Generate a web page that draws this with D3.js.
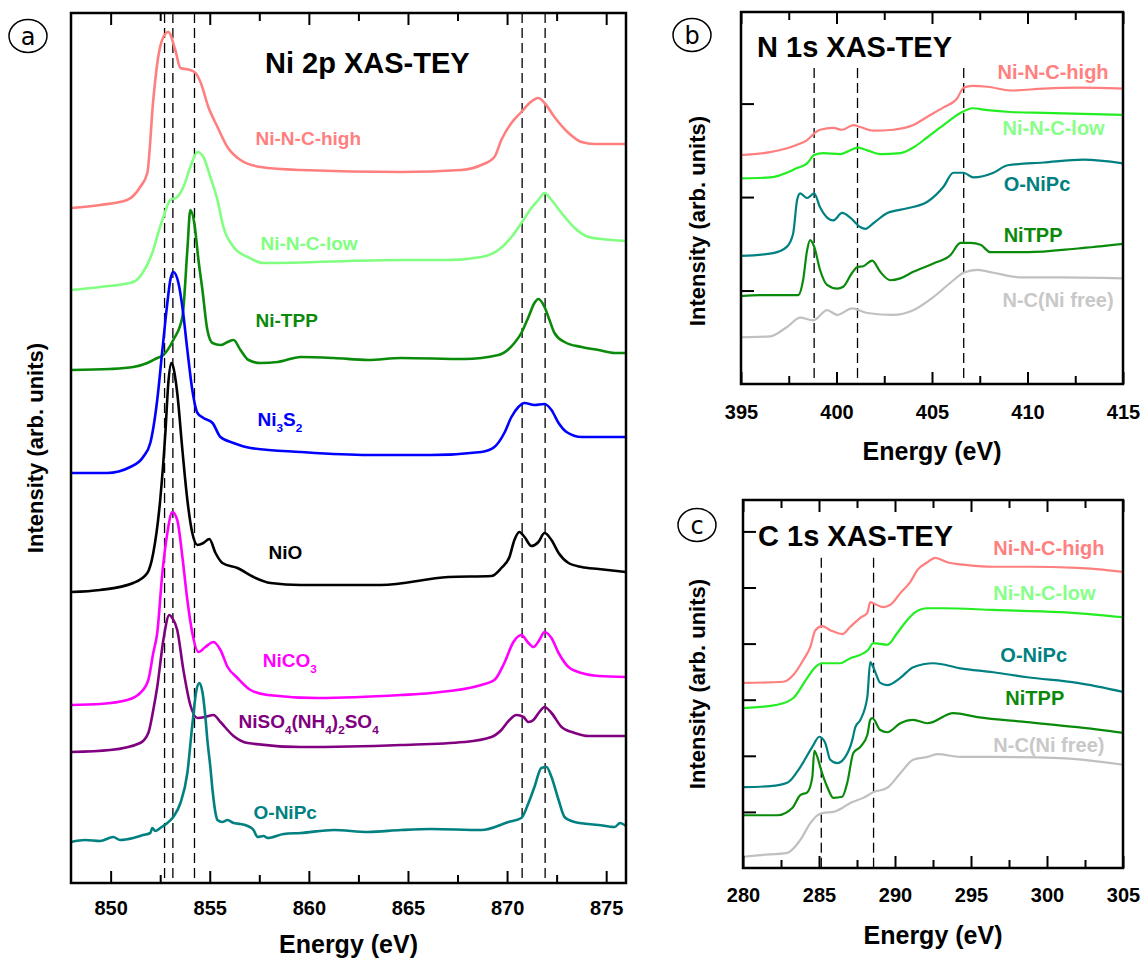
<!DOCTYPE html>
<html>
<head>
<meta charset="utf-8">
<script src="https://cdn.jsdelivr.net/npm/d3@7"></script>
<style>
  html, body { margin: 0; padding: 0; background: #fff; }
  svg text { font-family: "Liberation Sans", Arial, sans-serif; font-weight: bold; }
</style>
</head>
<body>
<svg id="fig" width="1146" height="961"></svg>
<script>
// ---------------- Ni 2p XAS-TEY : [energy (eV), stacked intensity (arb.)] ----------------
const ni2pHigh = [[848.0,6.75],[849.47,6.78],[850.83,6.83],[851.49,6.96],[851.85,7.10],[852.15,7.83],[852.40,8.26],[852.66,8.46],[852.91,8.51],[853.26,8.33],[853.52,8.15],[854.02,8.13],[854.28,8.10],[854.53,8.01],[854.93,7.76],[855.39,7.56],[855.89,7.36],[856.55,7.23],[857.56,7.16],[859.59,7.13],[864.65,7.11],[867.69,7.13],[868.70,7.18],[869.36,7.26],[869.71,7.43],[870.22,7.60],[870.72,7.71],[871.13,7.80],[871.58,7.85],[871.89,7.80],[872.39,7.66],[873.10,7.50],[873.76,7.41],[874.42,7.39],[876.0,7.39]];
const ni2pLow = [[848.0,5.93],[849.47,5.96],[851.14,6.01],[851.64,6.11],[852.10,6.30],[852.40,6.50],[852.66,6.66],[853.01,6.83],[853.36,6.86],[853.67,6.96],[854.02,7.16],[854.38,7.31],[854.68,7.26],[855.03,7.06],[855.39,6.83],[855.69,6.56],[856.20,6.36],[856.91,6.26],[857.72,6.20],[864.65,6.23],[867.03,6.23],[868.70,6.26],[869.56,6.33],[870.22,6.46],[870.72,6.60],[871.23,6.75],[871.58,6.83],[871.89,6.90],[872.24,6.83],[872.75,6.70],[873.41,6.55],[874.11,6.46],[874.77,6.44],[876.0,6.42]];
const ni2pTPP = [[848.0,5.13],[849.97,5.14],[851.14,5.16],[851.85,5.20],[852.35,5.25],[852.66,5.28],[853.16,5.43],[853.62,5.66],[853.87,6.33],[854.02,6.73],[854.22,6.60],[854.43,6.23],[854.63,5.93],[854.88,5.53],[855.14,5.40],[855.54,5.38],[855.90,5.41],[856.20,5.43],[856.55,5.33],[856.96,5.23],[857.56,5.20],[858.43,5.21],[859.59,5.26],[861.26,5.25],[862.98,5.23],[864.65,5.25],[867.84,5.24],[869.56,5.28],[870.37,5.40],[870.72,5.50],[871.08,5.66],[871.38,5.80],[871.58,5.84],[871.89,5.76],[872.14,5.63],[872.39,5.50],[872.90,5.41],[873.76,5.36],[874.62,5.33],[875.43,5.30],[876.0,5.30]];
const ni2pNi3S2 = [[848.0,4.10],[849.82,4.10],[850.99,4.16],[851.64,4.26],[852.00,4.40],[852.35,4.83],[852.61,5.33],[852.86,5.80],[853.01,6.03],[853.16,6.11],[853.42,6.00],[853.62,5.76],[853.87,5.33],[854.12,4.93],[854.38,4.70],[854.68,4.65],[855.14,4.60],[855.54,4.46],[856.20,4.40],[857.06,4.35],[859.59,4.31],[862.98,4.28],[866.17,4.28],[868.70,4.31],[869.36,4.36],[869.86,4.50],[870.22,4.66],[870.57,4.76],[870.88,4.80],[871.38,4.78],[871.89,4.79],[872.24,4.73],[872.60,4.60],[873.00,4.51],[873.76,4.46],[876.0,4.46]];
const ni2pNiO = [[848.0,2.91],[849.47,2.93],[851.14,3.00],[851.85,3.10],[852.15,3.30],[852.50,3.83],[852.76,4.50],[852.91,5.00],[853.06,5.20],[853.16,5.16],[853.36,4.90],[853.62,4.33],[853.87,3.83],[854.12,3.50],[854.38,3.38],[854.68,3.40],[854.98,3.44],[855.29,3.30],[855.64,3.20],[856.40,3.15],[857.21,3.06],[858.07,3.00],[859.59,2.98],[863.64,2.98],[867.03,3.06],[869.21,3.07],[869.71,3.15],[870.12,3.26],[870.37,3.43],[870.62,3.51],[870.88,3.46],[871.23,3.37],[871.58,3.41],[871.89,3.50],[872.24,3.43],[872.60,3.30],[873.10,3.20],[873.76,3.16],[874.62,3.14],[876.0,3.11]];
const ni2pNiCO3 = [[848.0,1.78],[849.47,1.79],[850.83,1.83],[851.49,1.90],[851.90,2.03],[852.15,2.30],[852.35,2.50],[852.61,3.10],[852.86,3.50],[853.11,3.71],[853.36,3.63],[853.62,3.26],[853.87,2.83],[854.12,2.50],[854.43,2.31],[854.78,2.36],[855.19,2.41],[855.54,2.33],[855.90,2.16],[856.40,2.05],[857.06,1.93],[857.92,1.88],[860.45,1.85],[864.65,1.88],[866.17,1.90],[868.70,1.98],[869.36,2.03],[869.86,2.20],[870.32,2.41],[870.72,2.48],[871.08,2.40],[871.33,2.36],[871.63,2.43],[871.89,2.51],[872.24,2.45],[872.60,2.30],[873.10,2.16],[873.76,2.10],[874.62,2.07],[876.0,2.06]];
const ni2pNiSO4 = [[848.0,1.31],[849.97,1.33],[851.49,1.40],[851.90,1.50],[852.15,1.73],[852.35,1.96],[852.66,2.43],[852.96,2.68],[853.11,2.65],[853.36,2.53],[853.67,2.13],[854.02,1.78],[854.38,1.65],[854.78,1.66],[855.19,1.68],[855.54,1.61],[856.20,1.47],[856.91,1.40],[859.59,1.36],[864.65,1.38],[867.84,1.41],[869.21,1.46],[869.71,1.53],[870.12,1.63],[870.47,1.68],[870.83,1.66],[871.08,1.61],[871.33,1.63],[871.63,1.71],[871.89,1.76],[872.24,1.70],[872.75,1.56],[873.41,1.50],[874.11,1.47],[876.0,1.47]];
const ni2pONiPc = [[848.0,0.41],[848.71,0.43],[849.47,0.42],[850.13,0.46],[850.48,0.43],[851.14,0.45],[851.64,0.48],[852.00,0.50],[852.10,0.55],[852.25,0.52],[852.50,0.55],[852.86,0.60],[853.16,0.66],[853.52,0.80],[853.87,1.10],[854.12,1.58],[854.33,1.93],[854.48,2.00],[854.63,1.91],[854.78,1.66],[854.88,1.43],[855.03,1.16],[855.14,0.93],[855.29,0.70],[855.39,0.63],[855.64,0.61],[855.90,0.63],[856.20,0.60],[856.55,0.59],[856.91,0.57],[857.21,0.53],[857.41,0.46],[857.72,0.47],[857.92,0.45],[858.73,0.49],[859.59,0.50],[861.26,0.53],[862.98,0.51],[864.65,0.53],[866.17,0.54],[868.70,0.53],[870.07,0.61],[870.72,0.65],[871.08,0.80],[871.38,0.96],[871.73,1.15],[871.99,1.16],[872.24,1.06],[872.60,0.83],[872.90,0.66],[873.41,0.61],[874.62,0.58],[875.43,0.56],[875.70,0.60],[876.0,0.57]];

const ni2pNames = ["Ni-N-C-high", "Ni-N-C-low", "Ni-TPP", "Ni_3S_2", "NiO", "NiCO_3", "NiSO_4(NH_4)_2SO_4", "O-NiPc"];
const ni2pValues = [ni2pHigh, ni2pLow, ni2pTPP, ni2pNi3S2, ni2pNiO, ni2pNiCO3, ni2pNiSO4, ni2pONiPc];
const ni2pMarks = [852.72, 853.14, 854.23, 870.76, 871.92];
const ni2pMajorTicks = [850, 855, 860, 865, 870, 875];
const ni2pMinorTicks = [852.5, 857.5, 862.5, 867.5, 872.5];

// ---------------- N 1s XAS-TEY ----------------
const n1sHigh = [[395.00,2.45],[396.52,2.48],[397.94,2.56],[398.46,2.61],[398.83,2.68],[399.14,2.72],[399.83,2.74],[400.30,2.72],[400.88,2.77],[401.24,2.75],[401.93,2.71],[402.97,2.72],[404.02,2.77],[404.76,2.86],[405.60,2.96],[406.33,3.06],[406.65,3.17],[407.12,3.19],[407.91,3.18],[409.11,3.14],[410.84,3.16],[412.63,3.17],[415.0,3.16]];
const n1sLow = [[395.00,2.20],[396.52,2.21],[397.94,2.31],[398.46,2.36],[398.83,2.45],[399.30,2.47],[400.19,2.46],[401.14,2.53],[401.61,2.50],[402.29,2.46],[403.34,2.47],[404.02,2.53],[404.76,2.64],[405.60,2.77],[406.49,2.90],[407.12,2.95],[407.91,2.93],[409.11,2.91],[410.84,2.90],[415.0,2.88]];
const n1sONiPc = [[395.00,1.37],[396.68,1.40],[397.41,1.47],[397.73,1.61],[397.94,1.97],[398.10,2.04],[398.46,1.99],[398.83,2.04],[399.14,1.89],[399.51,1.78],[399.83,1.75],[400.30,1.83],[400.72,1.78],[401.24,1.68],[401.51,1.66],[401.93,1.72],[402.66,1.83],[403.71,1.88],[404.76,1.95],[405.60,2.11],[406.12,2.26],[406.65,2.26],[407.17,2.21],[408.22,2.26],[408.96,2.34],[410.84,2.37],[412.94,2.40],[415.0,2.36]];
const n1sTPP = [[395.00,0.94],[396.00,0.95],[397.99,0.95],[398.25,1.11],[398.46,1.43],[398.62,1.54],[398.83,1.47],[399.14,1.22],[399.51,1.06],[400.04,1.02],[400.35,1.04],[400.82,1.19],[401.09,1.25],[401.40,1.26],[401.87,1.32],[402.29,1.20],[402.82,1.11],[403.34,1.13],[404.02,1.20],[405.07,1.29],[405.97,1.38],[406.49,1.51],[407.01,1.51],[407.54,1.49],[408.06,1.41],[410.01,1.41],[412.63,1.45],[415.0,1.50]];
const n1sFree = [[395.00,0.50],[396.52,0.51],[397.41,0.61],[398.10,0.71],[398.78,0.68],[399.51,0.79],[400.04,0.74],[400.82,0.81],[401.61,0.76],[402.97,0.74],[404.02,0.79],[405.07,0.93],[406.12,1.11],[406.65,1.19],[407.38,1.22],[408.22,1.19],[409.64,1.14],[411.74,1.14],[415.0,1.13]];

const n1sNames = ["Ni-N-C-high", "Ni-N-C-low", "O-NiPc", "NiTPP", "N-C(Ni free)"];
const n1sValues = [n1sHigh, n1sLow, n1sONiPc, n1sTPP, n1sFree];
const n1sMarks = [398.83, 401.10, 406.66];
const n1sMajorTicks = [395, 400, 405, 410, 415];
const n1sMinorTicks = [397.5, 402.5, 407.5, 412.5];
const n1sYTicks = [1, 2, 3];

// ---------------- C 1s XAS-TEY ----------------
const c1sHigh = [[280.0,3.30],[282.65,3.32],[283.31,3.44],[283.97,3.71],[284.43,3.94],[284.76,4.24],[285.22,4.31],[285.74,4.24],[286.53,4.17],[287.06,4.30],[287.72,4.46],[288.18,4.55],[288.37,4.74],[288.57,4.72],[289.22,4.65],[289.69,4.69],[290.35,4.90],[291.01,5.10],[291.47,5.31],[292.13,5.45],[292.65,5.53],[293.44,5.45],[294.76,5.40],[296.47,5.37],[298.70,5.37],[302.00,5.35],[305.0,5.28]];
const c1sLow = [[280.0,2.85],[282.26,2.91],[283.31,3.03],[284.23,3.39],[284.76,3.58],[285.22,3.65],[286.40,3.65],[287.06,3.74],[287.72,3.80],[288.24,3.89],[288.57,4.01],[289.49,3.98],[290.15,4.19],[290.81,4.42],[291.34,4.56],[292.13,4.63],[293.18,4.63],[296.47,4.60],[300.88,4.56],[305.0,4.47]];
const c1sONiPc = [[280.0,1.44],[281.80,1.46],[282.91,1.52],[283.77,1.80],[284.56,2.16],[285.02,2.34],[285.41,2.23],[285.74,1.93],[286.20,1.87],[286.73,1.98],[287.19,2.28],[287.39,2.51],[287.72,2.64],[288.18,3.05],[288.37,3.67],[288.57,3.58],[289.03,3.30],[289.49,3.26],[290.35,3.39],[291.20,3.58],[292.52,3.65],[294.30,3.56],[296.47,3.49],[298.70,3.40],[302.00,3.30],[305.0,3.14]];
const c1sTPP = [[280.0,0.94],[282.26,0.94],[283.24,1.07],[283.77,1.30],[284.23,1.35],[284.56,1.62],[284.69,2.09],[284.89,1.98],[285.08,1.80],[285.55,1.44],[285.94,1.25],[286.53,1.27],[286.86,1.52],[287.26,2.05],[287.72,2.16],[288.18,2.37],[288.37,2.64],[288.51,2.67],[289.03,2.46],[289.49,2.42],[290.35,2.58],[291.20,2.64],[292.13,2.58],[293.84,2.76],[295.42,2.69],[298.70,2.60],[302.00,2.51],[305.0,2.41]];
const c1sFree = [[280.0,0.20],[281.14,0.23],[282.91,0.27],[283.77,0.50],[284.43,0.80],[284.89,0.94],[285.28,0.98],[285.94,1.00],[286.53,1.07],[287.06,1.16],[287.91,1.25],[288.57,1.35],[289.49,1.43],[290.35,1.69],[291.20,1.93],[292.13,1.98],[292.78,2.03],[294.30,1.98],[296.47,1.98],[300.88,1.96],[305.0,1.84]];

const c1sNames = ["Ni-N-C-high", "Ni-N-C-low", "O-NiPc", "NiTPP", "N-C(Ni free)"];
const c1sValues = [c1sHigh, c1sLow, c1sONiPc, c1sTPP, c1sFree];
const c1sMarks = [285.15, 288.59];
const c1sMajorTicks = [280, 285, 290, 295, 300, 305];
const c1sMinorTicks = [282.5, 287.5, 292.5, 297.5, 302.5];
const c1sYTicks = [1, 2, 3, 4, 5, 6];

// ---------------- layout and styling ----------------
const ni2pLineColors = ["#ff7f7f", "#80ff80", "#0a8a0a", "#0000ff", "#000000", "#ff00ff", "#800080", "#008080"];
const ni2pTextColors = ["#ff7f7f", "#80ff80", "#0a8a0a", "#0000ff", "#000000", "#ff00ff", "#800080", "#008080"];
const ni2pLabelAt = [[857.31,7.38],[857.56,6.33],[857.31,5.56],[857.41,4.57],[857.97,3.24],[857.67,2.16],[856.45,1.55],[857.21,0.64]];

const edgeLineColors = ["#ff7f7f", "#22ee22", "#008080", "#0a8a0a", "#c0c0c0"];
const edgeTextColors = ["#ff8080", "#88ff88", "#008080", "#0a8a0a", "#c8c8c8"];
const n1sLabelAt = [[408.43,3.26],[408.69,2.66],[408.75,2.07],[408.75,1.52],[408.69,0.82]];
const c1sLabelAt = [[296.47,5.58],[296.47,4.78],[296.93,3.67],[297.26,2.91],[296.47,2.07]];

const svg = d3.select("#fig");
const defs = svg.append("defs");

// label text with single-digit subscripts written as "_n"
function richText(sel, str, size) {
  const parts = str.split(/(_\d)/).filter(s => s.length);
  let down = false;
  parts.forEach(p => {
    const t = sel.append("tspan");
    if (p[0] === "_") {
      t.text(p.slice(1)).attr("font-size", size * 0.62).attr("dy", down ? 0 : size * 0.3);
      down = true;
    } else {
      t.text(p).attr("dy", down ? -size * 0.3 : 0);
      down = false;
    }
  });
}

function drawPanel(cfg) {
  const { id, box, xDomain, yDomain, names, values, lineColors, textColors, labelAt,
          marks, markTop, majors, minors, yTicks, title, titlePos, tickPad,
          xTitleOffset, yTitleX, lineWidth, labelSize, badge } = cfg;
  const x = d3.scaleLinear().domain(xDomain).range([box.x0, box.x1]);
  const y = d3.scaleLinear().domain(yDomain).range([box.y1, box.y0]);
  const g = svg.append("g").attr("class", "panel-" + id);

  defs.append("clipPath").attr("id", "clip-" + id)
    .append("rect").attr("x", box.x0).attr("y", box.y0)
    .attr("width", box.x1 - box.x0).attr("height", box.y1 - box.y0);

  // reference energies
  g.append("g").selectAll("line").data(marks).join("line")
    .attr("x1", d => x(d)).attr("x2", d => x(d))
    .attr("y1", y(markTop)).attr("y2", y(yDomain[0]))
    .attr("stroke", "#000").attr("stroke-width", 1.3).attr("stroke-dasharray", "10,5");

  // spectra
  const line = d3.line().x(d => x(d[0])).y(d => y(d[1])).curve(d3.curveMonotoneX);
  g.append("g").attr("clip-path", `url(#clip-${id})`)
    .selectAll("path").data(values).join("path")
    .attr("d", line).attr("fill", "none")
    .attr("stroke", (d, i) => lineColors[i]).attr("stroke-width", lineWidth)
    .attr("stroke-linejoin", "round");

  // axes: bottom (labelled), top (mirror), minor ticks
  const bottom = g.append("g").attr("transform", `translate(0,${box.y1})`)
    .call(d3.axisBottom(x).tickValues(majors).tickSize(-12).tickPadding(tickPad).tickFormat(d3.format("d")));
  g.append("g").attr("transform", `translate(0,${box.y1})`)
    .call(d3.axisBottom(x).tickValues(minors).tickSize(-8).tickFormat(""));
  g.append("g").attr("transform", `translate(0,${box.y0})`)
    .call(d3.axisTop(x).tickValues(majors).tickSize(-12).tickFormat(""));
  g.append("g").attr("transform", `translate(0,${box.y0})`)
    .call(d3.axisTop(x).tickValues(minors).tickSize(-8).tickFormat(""));
  if (yTicks.length) {
    g.append("g").attr("transform", `translate(${box.x0},0)`)
      .call(d3.axisLeft(y).tickValues(yTicks).tickSize(-13).tickFormat(""));
  }
  g.selectAll(".domain").remove();
  g.selectAll(".tick line").attr("stroke", "#000").attr("stroke-width", 2);
  bottom.selectAll(".tick text").attr("font-size", 20).attr("fill", "#000")
    .attr("font-family", "Liberation Sans, Arial, sans-serif");

  // frame
  g.append("rect").attr("x", box.x0).attr("y", box.y0)
    .attr("width", box.x1 - box.x0).attr("height", box.y1 - box.y0)
    .attr("fill", "none").attr("stroke", "#000").attr("stroke-width", 2.5);

  // series labels
  names.forEach((n, i) => {
    const t = g.append("text").attr("x", x(labelAt[i][0])).attr("y", y(labelAt[i][1]))
      .attr("fill", textColors[i]).attr("font-size", labelSize);
    richText(t, n, labelSize);
  });

  // panel title
  g.append("text").attr("x", box.x0 + titlePos[0]).attr("y", box.y0 + titlePos[1])
    .attr("font-size", 29).attr("fill", "#000").text(title);

  // axis titles
  g.append("text").attr("x", (box.x0 + box.x1) / 2).attr("y", box.y1 + xTitleOffset)
    .attr("text-anchor", "middle").attr("font-size", 25).attr("fill", "#000").text("Energy (eV)");
  g.append("text")
    .attr("transform", `translate(${yTitleX},${(box.y0 + box.y1) / 2 + cfg.yTitleShift}) rotate(-90)`)
    .attr("text-anchor", "middle").attr("dy", "0.35em").attr("font-size", 22).attr("fill", "#000")
    .text("Intensity (arb. units)");

  // circled panel letter
  g.append("ellipse").attr("cx", badge[0]).attr("cy", badge[1]).attr("rx", 19).attr("ry", 16.5)
    .attr("fill", "none").attr("stroke", "#000").attr("stroke-width", 1.5);
  g.append("text").attr("x", badge[0]).attr("y", badge[1]).attr("dy", "0.36em")
    .attr("text-anchor", "middle").attr("font-size", 24)
    .style("font-weight", "normal").style("font-family", "DejaVu Sans, sans-serif")
    .attr("fill", "#000").text(id);
}

drawPanel({
  id: "a", box: { x0: 71, y0: 13, x1: 626, y1: 883 },
  xDomain: [848, 876], yDomain: [0, 8.70],
  names: ni2pNames, values: ni2pValues, lineColors: ni2pLineColors, textColors: ni2pTextColors,
  labelAt: ni2pLabelAt, marks: ni2pMarks, markTop: 8.70,
  majors: ni2pMajorTicks, minors: ni2pMinorTicks, yTicks: [],
  title: "Ni 2p XAS-TEY", titlePos: [194, 60], tickPad: 18, xTitleOffset: 70,
  yTitleX: 35, yTitleShift: 0, lineWidth: 2.6, labelSize: 19, badge: [28, 36]
});

drawPanel({
  id: "b", box: { x0: 741, y0: 12, x1: 1123, y1: 384 },
  xDomain: [395, 415], yDomain: [0, 3.98],
  names: n1sNames, values: n1sValues, lineColors: edgeLineColors, textColors: edgeTextColors,
  labelAt: n1sLabelAt, marks: n1sMarks, markTop: 3.38,
  majors: n1sMajorTicks, minors: n1sMinorTicks, yTicks: n1sYTicks,
  title: "N 1s XAS-TEY", titlePos: [16, 45], tickPad: 21, xTitleOffset: 76,
  yTitleX: 697, yTitleShift: 23, lineWidth: 2.2, labelSize: 20, badge: [692, 35]
});

drawPanel({
  id: "c", box: { x0: 743, y0: 500, x1: 1123, y1: 868 },
  xDomain: [280, 305], yDomain: [0, 6.56],
  names: c1sNames, values: c1sValues, lineColors: edgeLineColors, textColors: edgeTextColors,
  labelAt: c1sLabelAt, marks: c1sMarks, markTop: 5.53,
  majors: c1sMajorTicks, minors: c1sMinorTicks, yTicks: c1sYTicks,
  title: "C 1s XAS-TEY", titlePos: [15, 46], tickPad: 20, xTitleOffset: 76,
  yTitleX: 697, yTitleShift: 0, lineWidth: 2.2, labelSize: 20, badge: [697, 525]
});
</script>
</body>
</html>
